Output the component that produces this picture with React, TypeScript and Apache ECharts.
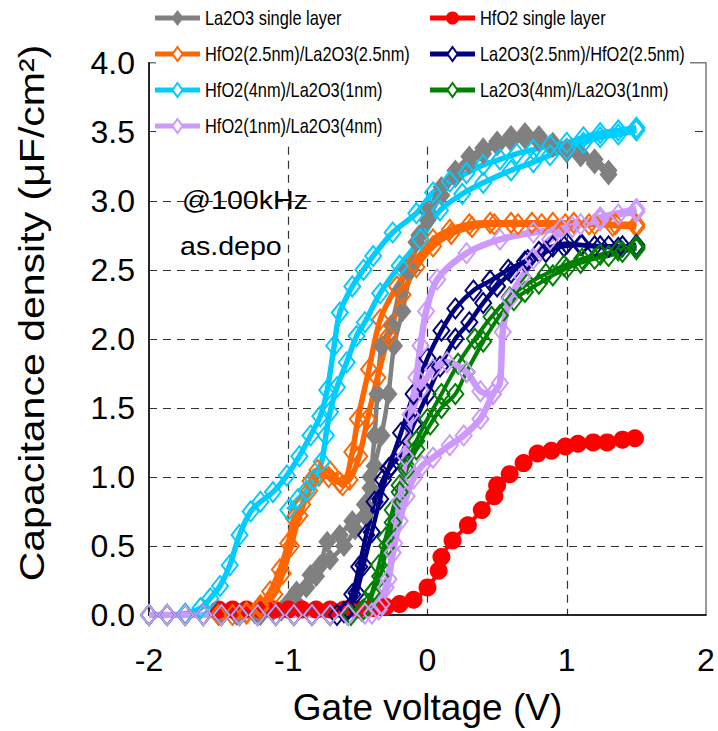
import React, { useEffect, useRef } from "react";
import * as echarts from "echarts";

// ---------- data (x: gate voltage V, y: capacitance density uF/cm2) ----------
const seriesNames = [
  "La2O3 single layer",
  "HfO2 single layer",
  "HfO2(2.5nm)/La2O3(2.5nm)",
  "La2O3(2.5nm)/HfO2(2.5nm)",
  "HfO2(4nm)/La2O3(1nm)",
  "La2O3(4nm)/La2O3(1nm)",
  "HfO2(1nm)/La2O3(4nm)",
];
const seriesColors = ["#808080", "#FF0000", "#FF6600", "#000080", "#00CCFF", "#008000", "#CC99FF"];

const xTicks = [-2, -1, 0, 1, 2];
const yTicks = [0, 0.5, 1, 1.5, 2, 2.5, 3, 3.5, 4];

const grayFwd = [[-1.5,0],[-1.37,0],[-1.24,0.01],[-1.11,0.03],[-1.0,0.09],[-0.94,0.17],[-0.84,0.29],[-0.77,0.36],[-0.72,0.53],[-0.63,0.58],[-0.54,0.68],[-0.45,0.72],[-0.41,0.92],[-0.38,1.08],[-0.33,1.3],[-0.28,1.6],[-0.24,1.95],[-0.18,2.2],[-0.12,2.5],[-0.06,2.75],[0.0,2.92],[0.1,3.1],[0.2,3.22],[0.3,3.32],[0.4,3.38],[0.5,3.43],[0.6,3.47],[0.7,3.49],[0.8,3.47],[0.9,3.42],[1.0,3.38],[1.1,3.34],[1.2,3.3],[1.3,3.22]];
const grayRev = [[1.3,3.19],[1.2,3.27],[1.1,3.32],[1.0,3.35],[0.9,3.39],[0.8,3.43],[0.7,3.45],[0.6,3.43],[0.5,3.4],[0.4,3.34],[0.3,3.27],[0.2,3.17],[0.1,3.04],[0.0,2.86],[-0.08,2.7],[-0.15,2.5],[-0.2,2.35],[-0.26,2.1],[-0.33,1.95],[-0.36,1.6],[-0.38,1.3],[-0.41,1.0],[-0.45,0.8],[-0.52,0.62],[-0.6,0.5],[-0.7,0.4],[-0.8,0.28],[-0.87,0.2],[-0.95,0.1],[-1.05,0.03],[-1.2,0]];

const redSweep = [[-1.5,0.04],[-1.4,0.04],[-1.3,0.04],[-1.2,0.04],[-1.1,0.04],[-1.0,0.04],[-0.9,0.04],[-0.8,0.04],[-0.7,0.04],[-0.6,0.04],[-0.5,0.04],[-0.4,0.05],[-0.3,0.06],[-0.2,0.08],[-0.1,0.11],[0.0,0.2],[0.08,0.32],[0.1,0.42],[0.18,0.54],[0.29,0.65],[0.39,0.76],[0.48,0.86],[0.5,0.94],[0.59,1.02],[0.69,1.1],[0.79,1.17],[0.89,1.19],[0.99,1.22],[1.08,1.24],[1.19,1.25],[1.29,1.25],[1.4,1.27],[1.49,1.28]];

const orangeFwd = [[-1.5,0],[-1.4,0],[-1.3,0.02],[-1.2,0.07],[-1.13,0.17],[-1.06,0.33],[-1.0,0.52],[-0.96,0.7],[-0.9,0.8],[-0.84,0.97],[-0.79,1.05],[-0.7,1.04],[-0.61,0.94],[-0.54,1.18],[-0.5,1.42],[-0.42,1.78],[-0.34,2.14],[-0.22,2.38],[-0.1,2.55],[0.04,2.72],[0.16,2.79],[0.3,2.83],[0.45,2.84],[0.6,2.84],[0.75,2.84],[0.9,2.84],[1.05,2.84],[1.2,2.83],[1.35,2.83],[1.5,2.83]];
const orangeRev = [[1.5,2.81],[1.33,2.82],[1.16,2.83],[0.99,2.83],[0.82,2.83],[0.65,2.83],[0.48,2.83],[0.32,2.81],[0.17,2.76],[0.04,2.67],[-0.08,2.52],[-0.18,2.32],[-0.28,2.02],[-0.36,1.72],[-0.43,1.42],[-0.49,1.15],[-0.56,0.98],[-0.63,0.96],[-0.71,1.0],[-0.78,1.01],[-0.85,0.9],[-0.92,0.72],[-0.98,0.5],[-1.04,0.3],[-1.1,0.15],[-1.2,0.05],[-1.3,0.01]];

const navyFwd = [[-2,0],[-1.87,0],[-1.74,0],[-1.61,0],[-1.48,0],[-1.35,0],[-1.22,0],[-1.09,0],[-0.96,0],[-0.83,0],[-0.7,0],[-0.6,0.02],[-0.54,0.15],[-0.49,0.35],[-0.44,0.58],[-0.38,0.82],[-0.32,0.98],[-0.26,1.08],[-0.18,1.18],[-0.1,1.38],[0.0,1.6],[0.09,1.8],[0.2,2.0],[0.3,2.12],[0.4,2.26],[0.5,2.38],[0.6,2.48],[0.7,2.56],[0.8,2.63],[0.9,2.67],[1.0,2.69],[1.1,2.68],[1.2,2.67],[1.3,2.67],[1.4,2.67],[1.5,2.68]];
const navyRev = [[1.5,2.66],[1.37,2.66],[1.24,2.67],[1.11,2.68],[0.98,2.67],[0.85,2.63],[0.72,2.57],[0.58,2.5],[0.45,2.42],[0.33,2.35],[0.2,2.22],[0.1,2.06],[0.0,1.86],[-0.1,1.6],[-0.19,1.32],[-0.28,1.06],[-0.34,0.84],[-0.4,0.6],[-0.46,0.36],[-0.51,0.16],[-0.57,0.04],[-0.65,0]];

const cyanFwd = [[-2,0],[-1.87,0],[-1.74,0.01],[-1.63,0.05],[-1.56,0.12],[-1.49,0.21],[-1.42,0.36],[-1.35,0.58],[-1.27,0.75],[-1.2,0.82],[-1.11,0.89],[-1.01,1.01],[-0.92,1.15],[-0.84,1.3],[-0.77,1.44],[-0.72,1.63],[-0.67,1.95],[-0.63,2.19],[-0.54,2.38],[-0.46,2.5],[-0.39,2.6],[-0.25,2.77],[-0.08,2.91],[0.04,3.06],[0.16,3.14],[0.28,3.2],[0.4,3.26],[0.52,3.3],[0.64,3.34],[0.76,3.37],[0.88,3.4],[1.0,3.42],[1.12,3.46],[1.24,3.49],[1.37,3.51],[1.5,3.53]];
const cyanRev = [[1.5,3.51],[1.37,3.48],[1.24,3.46],[1.12,3.42],[1.0,3.37],[0.88,3.33],[0.76,3.28],[0.6,3.22],[0.4,3.13],[0.25,3.05],[0.09,2.93],[-0.05,2.72],[-0.2,2.53],[-0.34,2.33],[-0.45,2.12],[-0.51,2.02],[-0.58,1.83],[-0.65,1.65],[-0.7,1.47],[-0.73,1.3],[-0.76,1.11],[-0.82,0.98],[-0.87,0.9],[-0.93,0.84],[-1.0,0.76]];

const greenFwd = [[-2,0],[-1.87,0],[-1.74,0],[-1.61,0],[-1.48,0],[-1.35,0],[-1.22,0],[-1.09,0],[-0.96,0],[-0.83,0],[-0.7,0],[-0.57,0],[-0.47,0.03],[-0.42,0.08],[-0.39,0.17],[-0.34,0.28],[-0.29,0.5],[-0.25,0.67],[-0.2,0.89],[-0.15,1.05],[-0.08,1.2],[0.02,1.38],[0.1,1.5],[0.2,1.6],[0.28,1.76],[0.4,1.98],[0.52,2.17],[0.62,2.28],[0.7,2.34],[0.8,2.4],[0.9,2.46],[1.0,2.51],[1.1,2.55],[1.2,2.58],[1.3,2.6],[1.4,2.63],[1.5,2.65]];
const greenRev = [[1.5,2.67],[1.37,2.64],[1.24,2.61],[1.11,2.58],[0.98,2.53],[0.85,2.47],[0.72,2.4],[0.59,2.3],[0.46,2.16],[0.34,2.0],[0.22,1.82],[0.1,1.6],[0.0,1.42],[-0.08,1.26],[-0.15,1.08],[-0.2,0.94],[-0.25,0.76],[-0.3,0.56],[-0.35,0.36],[-0.4,0.16],[-0.46,0.04],[-0.55,0]];

const lavFwd = [[-2,0],[-1.87,0],[-1.74,0],[-1.61,0],[-1.48,0],[-1.35,0],[-1.22,0],[-1.09,0],[-0.96,0],[-0.83,0],[-0.7,0],[-0.57,0],[-0.45,0.01],[-0.35,0.04],[-0.3,0.2],[-0.25,0.45],[-0.2,0.68],[-0.15,0.86],[-0.1,0.99],[-0.04,1.08],[0.04,1.14],[0.16,1.23],[0.26,1.3],[0.38,1.42],[0.47,1.6],[0.52,1.68],[0.54,2.05],[0.59,2.29],[0.68,2.45],[0.76,2.58],[0.88,2.72],[1.04,2.81],[1.24,2.88],[1.5,2.94]];
const lavRev = [[1.5,2.92],[1.37,2.9],[1.24,2.86],[1.1,2.83],[0.96,2.8],[0.76,2.77],[0.52,2.72],[0.28,2.62],[0.07,2.43],[-0.01,2.2],[-0.05,1.95],[-0.08,1.72],[-0.12,1.45],[-0.16,1.15],[-0.2,0.82],[-0.24,0.52],[-0.28,0.26],[-0.33,0.08],[-0.4,0.01]];
const lavLoop = [[-0.12,1.45],[-0.05,1.63],[0.04,1.78],[0.14,1.83],[0.28,1.76],[0.38,1.62],[0.47,1.6]];

// legend layout: series index per slot (left column, right column)
const legendLeftCol = [0, 2, 4, 6];
const legendRightCol = [1, 3, 5];

// ---------- styling ----------
const FONT = "'Liberation Sans', Arial, Helvetica, sans-serif";
const LZ = 10;

const hollow = (name: string, data: number[][], color: string, width: number) => ({
  type: "line",
  name,
  data,
  smooth: 0.3,
  symbol: "diamond",
  symbolSize: [16, 20],
  showAllSymbol: true,
  lineStyle: { color, width },
  itemStyle: { color: "rgba(255,255,255,0)", borderColor: color, borderWidth: 2 },
  emphasis: { disabled: true },
});

function legendEntry(idx: number, x: number, y: number): any[] {
  const c = seriesColors[idx];
  const cx = x + 22.5;
  let marker: any;
  if (idx === 1) {
    marker = { type: "circle", z: LZ + 1, shape: { cx, cy: y, r: 6.5 }, style: { fill: c } };
  } else if (idx === 0) {
    marker = { type: "polygon", z: LZ + 1, shape: { points: [[cx, y - 8], [cx + 6, y], [cx, y + 8], [cx - 6, y]] }, style: { fill: c } };
  } else {
    marker = { type: "polygon", z: LZ + 1, shape: { points: [[cx, y - 7], [cx + 5, y], [cx, y + 7], [cx - 5, y]] }, style: { fill: "#ffffff", stroke: c, lineWidth: 2 } };
  }
  return [
    { type: "line", z: LZ, shape: { x1: x, y1: y, x2: x + 45, y2: y }, style: { stroke: c, lineWidth: 5 } },
    marker,
    {
      type: "text", z: LZ, x: x + 50, y, scaleX: 0.82,
      style: { text: seriesNames[idx], font: `20px ${FONT}`, fill: "#000", align: "left", verticalAlign: "middle" },
    },
  ];
}

export default function App() {
  const ref = useRef<HTMLDivElement>(null);
  useEffect(() => {
    const chart = echarts.init(ref.current!, null, { renderer: "svg" });
    const series: any[] = [
      {
        type: "line", name: seriesNames[0], data: grayFwd, smooth: 0.3,
        symbol: "diamond", symbolSize: [18, 22], showAllSymbol: true,
        lineStyle: { color: seriesColors[0], width: 4.5 },
        itemStyle: { color: seriesColors[0] }, emphasis: { disabled: true },
      },
      {
        type: "line", name: seriesNames[0], data: grayRev, smooth: 0.3,
        symbol: "diamond", symbolSize: [18, 22], showAllSymbol: true,
        lineStyle: { color: seriesColors[0], width: 4.5 },
        itemStyle: { color: seriesColors[0] }, emphasis: { disabled: true },
      },
      {
        type: "line", name: seriesNames[1], data: redSweep, smooth: 0.3,
        symbol: "circle", symbolSize: 18, showAllSymbol: true,
        lineStyle: { color: seriesColors[1], width: 4 },
        itemStyle: { color: seriesColors[1] }, emphasis: { disabled: true },
      },
      hollow(seriesNames[2], orangeFwd, seriesColors[2], 5.5),
      hollow(seriesNames[2], orangeRev, seriesColors[2], 5.5),
      hollow(seriesNames[3], navyFwd, seriesColors[3], 4.5),
      hollow(seriesNames[3], navyRev, seriesColors[3], 4.5),
      hollow(seriesNames[4], cyanFwd, seriesColors[4], 5.5),
      hollow(seriesNames[4], cyanRev, seriesColors[4], 5.5),
      hollow(seriesNames[5], greenFwd, seriesColors[5], 4),
      hollow(seriesNames[5], greenRev, seriesColors[5], 4),
      hollow(seriesNames[6], lavFwd, seriesColors[6], 6.5),
      hollow(seriesNames[6], lavRev, seriesColors[6], 6.5),
      hollow(seriesNames[6], lavLoop, seriesColors[6], 6.5),
    ];

    const rowY = [18, 54, 90, 126];
    const legendGraphics: any[] = [];
    legendLeftCol.forEach((s, i) => legendGraphics.push(...legendEntry(s, 155, rowY[i])));
    legendRightCol.forEach((s, i) => legendGraphics.push(...legendEntry(s, 430, rowY[i])));

    chart.setOption({
      animation: false,
      backgroundColor: "#ffffff",
      grid: {
        left: 149, right: 12, top: 62.7, bottom: 114.3,
        show: true, borderColor: "#7a7a7a", borderWidth: 1.5, backgroundColor: "transparent",
      },
      xAxis: {
        type: "value", min: xTicks[0], max: xTicks[xTicks.length - 1], interval: 1,
        axisLine: { show: true, onZero: false, lineStyle: { color: "#000", width: 1.5 } },
        axisTick: { show: false },
        splitLine: { show: true, showMinLine: false, showMaxLine: false, lineStyle: { color: "#333", width: 1.2, type: [8, 6] } },
        axisLabel: { fontSize: 32, color: "#000", margin: 29, fontFamily: FONT },
        name: "Gate voltage (V)", nameLocation: "middle", nameGap: 74,
        nameTextStyle: { fontSize: 37, color: "#000", fontFamily: FONT },
      },
      yAxis: {
        type: "value", min: yTicks[0], max: yTicks[yTicks.length - 1], interval: 0.5,
        axisLine: { show: true, onZero: false, lineStyle: { color: "#000", width: 1.5 } },
        axisTick: { show: false },
        splitLine: { show: true, showMinLine: false, showMaxLine: false, lineStyle: { color: "#333", width: 1.2, type: [8, 6] } },
        axisLabel: { fontSize: 32, color: "#000", margin: 14, fontFamily: FONT, formatter: (v: number) => v.toFixed(1) },
      },
      graphic: [
        { type: "rect", z: 1, shape: { x: 156, y: 0, width: 534, height: 141 }, style: { fill: "#ffffff" } },
        ...legendGraphics,
        {
          type: "text", z: 5, x: 31, y: 313, rotation: Math.PI / 2, scaleX: 1.14,
          style: { text: "Capacitance density (μF/cm²)", font: `36px ${FONT}`, fill: "#000", align: "center", verticalAlign: "middle" },
        },
        {
          type: "text", z: 5, x: 182, y: 200, scaleX: 1.1,
          style: { text: "@100kHz", font: `26px ${FONT}`, fill: "#000", align: "left", verticalAlign: "middle" },
        },
        {
          type: "text", z: 5, x: 180, y: 246, scaleX: 1.1,
          style: { text: "as.depo", font: `26px ${FONT}`, fill: "#000", align: "left", verticalAlign: "middle" },
        },
      ],
      series,
    });
    return () => chart.dispose();
  }, []);
  return <div ref={ref} style={{ position: "absolute", left: 0, top: 0, width: 718, height: 731 }} />;
}
